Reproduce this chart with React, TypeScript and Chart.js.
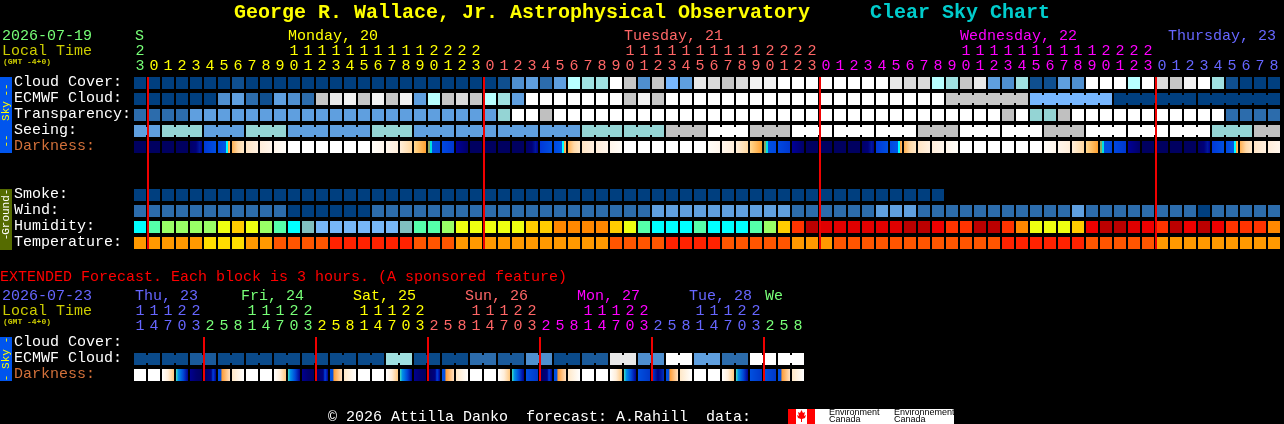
import { useEffect, useRef } from 'react';
import { Chart, registerables } from 'chart.js';

Chart.register(...registerables);

// --- tick labels ---
const hours = [
  23, 0, 1, 2, 3, 4, 5, 6, 7, 8, 9, 10, 11, 12, 13, 14, 15, 16, 17, 18, 19, 20, 21, 22, 23,
  0, 1, 2, 3, 4, 5, 6, 7, 8, 9, 10, 11, 12, 13, 14, 15, 16, 17, 18, 19, 20, 21, 22, 23,
  0, 1, 2, 3, 4, 5, 6, 7, 8, 9, 10, 11, 12, 13, 14, 15, 16, 17, 18, 19, 20, 21, 22, 23,
  0, 1, 2, 3, 4, 5, 6, 7, 8,
];
const extHours = [
  11, 14, 17, 20, 23, 2, 5, 8, 11, 14, 17, 20, 23, 2, 5, 8,
  11, 14, 17, 20, 23, 2, 5, 8, 11, 14, 17, 20, 23, 2, 5, 8,
  11, 14, 17, 20, 23, 2, 5, 8, 11, 14, 17, 20, 23, 2, 5, 8,
];
const midnightCols = [1, 25, 49, 73];
const extMidnightCols = [5, 13, 21, 29, 37, 45];

// --- sky rows (cloud values are percent covered) ---
const cloudCover = [
  0, 0, 0, 0, 0, 0, 0, 10, 0, 0, 0, 0, 0, 0, 0, 0, 0, 0, 0, 0, 0, 0, 0, 0, 0, 0,
  10, 30, 40, 20, 40, 60, 65, 65, 100, 70, 30, 70, 50, 40, 80, 75, 70, 75, 90, 90,
  100, 100, 100, 100, 100, 100, 100, 100, 80, 75, 75, 60, 65, 70, 80, 40, 30, 65,
  10, 10, 40, 30, 100, 100, 100, 60, 100, 75, 70, 90, 100, 65, 10, 0, 0, 0,
];
const ecmwfCloud = [
  0, 0, 0, 0, 0, 0, 30, 40, 20, 10, 40, 30, 20, 70, 80, 90, 70, 90, 70, 90, 40,
  60, 70, 75, 70, 60, 65, 40, 100, 100, 100, 100, 100, 100, 100, 70, 90, 70,
  100, 100, 100, 100, 100, 100, 100, 100, 100, 100, 100, 100, 100, 100, 100, 100, 100, 100, 100, 100,
  70, 70, 70, 70, 70, 70, 50, 50, 50, 50, 50, 50, 0, 0, 0, 0, 0, 0, 0, 0, 0, 0, 0, 0,
];
const ecmwfBlocks = [58, 64, 70, 76];
const transparency = [
  4, 4, 4, 4, 3, 3, 3, 3, 3, 3, 3, 3, 3, 3, 3, 3, 3, 3, 3, 3, 3, 3, 3, 3, 3, 3,
  2, 0, 0, 1, 0, 0, 0, 0, 0, 0, 0, 0, 0, 0, 0, 0, 0, 0, 0, 0, 0, 0, 0, 0, 0, 0,
  0, 0, 0, 0, 0, 0, 0, 0, 0, 0, 1, 0, 2, 2, 1, 0, 0, 0, 0, 0, 0, 0, 0, 0, 0, 0, 4, 4, 4, 4,
];
const seeing = [
  3, 3, 2, 2, 2, 3, 3, 3, 2, 2, 2, 3, 3, 3, 3, 3, 3, 2, 2, 2, 3, 3, 3,
  3, 3, 3, 3, 3, 3, 3, 3, 3, 2, 2, 2, 2, 2, 2, 1, 1, 1, 0, 0, 0, 1, 1, 1,
  0, 0, 0, 0, 0, 0, 0, 0, 0, 1, 1, 1, 0, 0, 0, 0, 0, 0, 1, 1, 1,
  0, 0, 0, 0, 0, 0, 0, 0, 0, 2, 2, 2, 1, 1,
];
const seeingBlocks = [
  0, 2, 5, 8, 11, 14, 17, 20, 23, 26, 29, 32, 35, 38, 41, 44, 47, 50, 53, 56, 59, 62, 65, 68, 71, 74, 77, 80,
];
const darkness = [
  'N', 'N', 'N', 'N', 'A', 'B', 'C', 'D', 'E', 'F', 'H', 'G', 'G', 'G', 'G', 'G', 'G', 'H2', 'E2', 'I', 'J', 'K', 'L', 'M',
  'N', 'N', 'N', 'N', 'A', 'B', 'C', 'D', 'E', 'F', 'H', 'G', 'G', 'G', 'G', 'G', 'G', 'H2', 'E2', 'I', 'J', 'K', 'L', 'M',
  'N', 'N', 'N', 'N', 'A', 'B', 'C', 'D', 'E', 'F', 'H', 'G', 'G', 'G', 'G', 'G', 'G', 'H2', 'E2', 'I', 'J', 'K', 'L', 'M',
  'N', 'N', 'N', 'N', 'A', 'B', 'C', 'D', 'E', 'F',
];

// --- ground rows ---
const smoke = [
  0, 0, 0, 0, 0, 0, 0, 0, 0, 0, 0, 0, 0, 0, 0, 0, 0, 0, 0, 0, 0, 0, 0, 0, 0, 0, 0, 0, 0,
  0, 0, 0, 0, 0, 0, 0, 0, 0, 0, 0, 0, 0, 0, 0, 0, 0, 0, 0, 0, 0, 0, 0, 0, 0, 0, 0, 0, 0,
];
const wind = [
  1, 1, 1, 1, 1, 1, 1, 1, 1, 1, 1, 0, 0, 0, 0, 0, 0, 1, 1, 1, 1, 1, 1, 1, 1, 1, 1, 1, 1, 1, 1, 1, 1, 1, 1, 1, 1,
  2, 2, 2, 2, 2, 2, 2, 2, 2, 2, 1, 1, 1, 1, 1, 1, 2, 2, 2, 1, 1, 1, 1, 1, 1, 1, 1, 1, 1, 1, 2, 1, 1, 1, 1, 1, 1, 1, 1,
  0, 1, 1, 1, 1, 1,
];
const humidity = [
  60, 65, 70, 70, 70, 70, 75, 80, 75, 70, 65, 60, 55, 50, 50, 50, 50, 50, 50, 55, 65,
  65, 70, 75, 75, 75, 75, 75, 80, 80, 85, 85, 85, 85, 80, 75, 65, 60, 60, 60, 65, 60, 60, 60, 65, 70, 80,
  90, 100, 95, 95, 95, 95, 95, 95, 100, 100, 93, 90, 90, 100, 100, 90, 85, 75, 75, 75, 80,
  93, 100, 100, 95, 93, 90, 100, 93, 100, 93, 90, 90, 90, 85,
];
const temperature = [
  20, 20, 20, 20, 20, 15, 15, 15, 20, 20, 25, 25, 25, 25, 30, 30, 30, 30, 30, 30, 25,
  25, 25, 20, 20, 20, 20, 20, 20, 20, 20, 20, 20, 20, 25, 25, 25, 25, 30, 30, 30, 30, 25, 25, 25, 25, 25,
  20, 20, 20, 25, 25, 25, 25, 25, 25, 25, 25, 25, 25, 25, 25, 30, 30, 30, 30, 30, 30,
  25, 25, 25, 25, 25, 20, 20, 20, 20, 20, 20, 20, 20, 20,
];

// --- extended rows, 3 hours per block ---
const extEcmwf = [
  5, 5, 5, 5, 15, 15, 5, 5, 5, 5, 5, 5, 5, 5, 5, 5, 5, 5, 65, 65, 5, 5, 5, 5,
  20, 20, 15, 15, 30, 30, 5, 5, 15, 15, 80, 80, 30, 30, 100, 100, 40, 40, 20, 20, 100, 100, 100, 100,
];
const extBlocks = [
  0, 2, 4, 6, 8, 10, 12, 14, 16, 18, 20, 22, 24, 26, 28, 30, 32, 34, 36, 38, 40, 42, 44, 46,
];
const extDarkness = [
  'G', 'G', 'O', 'K2', 'P', 'S', 'Q', 'R',
  'G', 'G', 'O', 'K2', 'P', 'S', 'Q', 'R',
  'G', 'G', 'O', 'K2', 'P', 'S', 'Q', 'R',
  'G', 'G', 'O', 'K2', 'T', 'S', 'Q', 'R',
  'G', 'G', 'O', 'K2', 'T', 'U', 'Q', 'R',
  'G', 'G', 'O', 'K2', 'T', 'T', 'Q', 'R',
];

// --- colours ---
const GREEN = '#77ff77';
const YELLOW = '#ffff00';
const SALMON = '#ff6666';
const MAGENTA = '#ff00ff';
const BLUE = '#6666ff';
const OLIVE = '#cccc00';
const DARK_ORANGE = '#d2703a';

const cloudColors: Record<number, string> = {
  0: '#003f7f', 5: '#0a4a8a', 10: '#0f4f8f', 15: '#1a5a9a', 20: '#2c6cac', 30: '#4f8fcf', 40: '#5f9fdf', 50: '#77b7ff',
  60: '#b8ffff', 65: '#a0e0e0', 70: '#c6c6c6', 75: '#dadada', 80: '#e8e8e8', 90: '#f2f2f2', 100: '#ffffff',
};
const transparencyColors = ['#ffffff', '#c0c0c0', '#94d4d4', '#5f9fdf', '#2c6cac'];
const seeingColors = ['#ffffff', '#c0c0c0', '#94d4d4', '#5f9fdf'];
const smokeColors = ['#003f7f'];
const windColors = ['#003f7f', '#2c6cac', '#5f9fdf'];
const humidityColors: Record<number, string> = {
  50: '#77b7f7', 55: '#80bfbf', 60: '#00ffff', 65: '#55ffaa', 70: '#99ff66', 75: '#eeff11', 80: '#ffcc00',
  85: '#ff8800', 90: '#ff3300', 93: '#ee0000', 95: '#e00000', 100: '#bb0000',
};
const temperatureColors: Record<number, string> = {
  15: '#ffdd00', 20: '#ff9900', 25: '#ff5500', 30: '#ff2200',
};
const darknessStops: Record<string, [number, string][]> = {
  N: [[0, '#000060'], [1, '#000060']],
  A: [[0, '#000068'], [0.5, '#000078'], [0.8, '#0018a0'], [1, '#000090']],
  B: [[0, '#0038d8'], [1, '#0050e0']],
  C: [[0, '#0048e0'], [0.65, '#0058e8'], [0.66, '#00ffff'], [0.82, '#00ffff'], [0.83, '#ffa030'], [1, '#ffc070']],
  D: [[0, '#ffb050'], [0.5, '#ffd9a8'], [1, '#ffe8c8']],
  E: [[0, '#ffe4c4'], [1, '#fff0e0']],
  F: [[0, '#ffedda'], [1, '#fff6ec']],
  H: [[0, '#fff5ea'], [1, '#fffdf8']],
  G: [[0, '#ffffff'], [1, '#ffffff']],
  H2: [[0, '#fffdf8'], [1, '#fff6ec']],
  E2: [[0, '#fff6ec'], [1, '#ffeeda']],
  I: [[0, '#ffeeda'], [1, '#ffd8a0']],
  J: [[0, '#ffd890'], [1, '#ffa030']],
  K: [[0, '#88aa66'], [0.16, '#88aa66'], [0.17, '#00e0e0'], [0.32, '#00e0e0'], [0.33, '#0050e0'], [1, '#0048e0']],
  L: [[0, '#0048e0'], [1, '#0038d0']],
  M: [[0, '#000098'], [1, '#000068']],
  O: [[0, '#ffffff'], [0.5, '#ffeeda'], [1, '#ffc880']],
  K2: [[0, '#40e0c0'], [0.2, '#0090e8'], [0.6, '#0048d8'], [1, '#000090']],
  P: [[0, '#000090'], [0.5, '#000070'], [1, '#000060']],
  S: [[0, '#000060'], [0.6, '#000080'], [0.75, '#0040e0'], [1, '#000090']],
  Q: [[0, '#0050e0'], [0.28, '#0050e0'], [0.3, '#ff9a30'], [1, '#ffe0c0']],
  R: [[0, '#ffe8c8'], [1, '#ffffff']],
  T: [[0, '#0050e0'], [1, '#0038c8']],
  U: [[0, '#0040d8'], [0.5, '#000080'], [1, '#0030c0']],
};

// --- layout: one column is 14px wide, one row 16px high ---
const WIDTH = 1284;
const HEIGHT = 424;
const ROW_FILL = 0.75;
const sky = { cloud: 0, ecmwf: 1, transparency: 2, seeing: 3, darkness: 4 };
const ground = { smoke: 7, wind: 8, humidity: 9, temperature: 10 };
const ext = { cloud: 16.25, ecmwf: 17.25, darkness: 18.25 };

const MONO = '"Liberation Mono", monospace';

const barSize = (px: number) => ({ barThickness: px, barPercentage: 1, categoryPercentage: 1 });

function cellBars(row: number, values: number[], colors: Record<number, string> | string[]) {
  return {
    data: values.map((_, i) => ({ x: i, y: [row, row + ROW_FILL] })),
    backgroundColor: values.map((v) => (colors as Record<number, string>)[v]),
    ...barSize(12),
    order: 2,
  };
}

// thin joins between cells that belong to one forecast block
function bridges(row: number, values: number[], starts: number[], colors: Record<number, string> | string[]) {
  const cols = values.map((_, i) => i).filter((i) => i < values.length - 1 && i >= starts[0] && !starts.includes(i + 1));
  return {
    data: cols.map((i) => ({ x: i + 0.5 - 1 / 14, y: [row + 0.125, row + 0.625] })),
    backgroundColor: cols.map((i) => (colors as Record<number, string>)[values[i]]),
    ...barSize(4),
    order: 3,
  };
}

function darknessBars(row: number, stages: string[]) {
  return {
    data: stages.map((s, i) => ({ x: i, y: [row, row + ROW_FILL], stage: s })),
    backgroundColor: (c: any) => {
      if (!c.raw) return 'transparent';
      const stops = darknessStops[c.raw.stage];
      const mid = c.chart.scales.x.getPixelForValue(c.raw.x);
      // scales have no size yet on the first pass
      if (!Number.isFinite(mid)) return stops[0][1];
      const g = c.chart.ctx.createLinearGradient(mid - 6, 0, mid + 6, 0);
      stops.forEach(([p, col]) => g.addColorStop(p, col));
      return g;
    },
    ...barSize(12),
    order: 2,
  };
}

function redLines(cols: number[], top: number, bottom: number) {
  return {
    data: cols.map((c) => ({ x: c - 6 / 14, y: [top, bottom] })),
    backgroundColor: '#f00000',
    ...barSize(2),
    order: 0,
  };
}

function bandColor(bands: [number, string][], col: number) {
  let color = bands[0][1];
  bands.forEach(([from, c]) => {
    if (col >= from) color = c;
  });
  return color;
}

const mainBands: [number, string][] = [[0, GREEN], [1, YELLOW], [25, SALMON], [49, MAGENTA], [73, BLUE]];
const extBands: [number, string][] = [[0, BLUE], [5, GREEN], [13, YELLOW], [21, SALMON], [29, MAGENTA], [37, BLUE], [45, GREEN]];

const textPlugin = {
  id: 'cscText',
  beforeDraw(chart: any) {
    chart.ctx.save();
    chart.ctx.fillStyle = '#000';
    chart.ctx.fillRect(0, 0, WIDTH, HEIGHT);
    chart.ctx.restore();
  },
  afterDraw(chart: any) {
    const { ctx, scales } = chart;
    const colX = (c: number) => scales.x.getPixelForValue(c);
    const rowY = (r: number) => scales.y.getPixelForValue(r) + 5;

    const text = (s: string, x: number, y: number, color: string, font = `15px ${MONO}`, align: CanvasTextAlign = 'left') => {
      ctx.font = font;
      ctx.fillStyle = color;
      ctx.textAlign = align;
      ctx.textBaseline = 'middle';
      ctx.fillText(s, x, y);
    };
    const strip = (top: number, bottom: number, color: string, parts: [string, number][], textColor: string) => {
      ctx.fillStyle = color;
      ctx.fillRect(0, top, 12, bottom - top);
      parts.forEach(([s, y]) => {
        ctx.save();
        ctx.translate(6, y);
        ctx.rotate(-Math.PI / 2);
        text(s, 0, 0, textColor, `11px ${MONO}`, 'center');
        ctx.restore();
      });
    };

    ctx.save();

    text('George R. Wallace, Jr. Astrophysical Observatory', 234, 13, YELLOW, `bold 20px ${MONO}`);
    text('Clear Sky Chart', 870, 13, '#00cccc', `bold 20px ${MONO}`);

    text('2026-07-19', 2, 36, GREEN);
    text('Local Time', 2, 51, OLIVE);
    text('(GMT -4+0)', 3, 62, OLIVE, `bold 8px ${MONO}`);
    text('S', 135, 36, GREEN);
    text('Monday, 20', 288, 36, YELLOW);
    text('Tuesday, 21', 624, 36, SALMON);
    text('Wednesday, 22', 960, 36, MAGENTA);
    text('Thursday, 23', 1168, 36, BLUE);
    hours.forEach((h, i) => {
      const color = bandColor(mainBands, i);
      if (h >= 10) text(String(h)[0], colX(i), 51, color, undefined, 'center');
      text(String(h % 10), colX(i), 66, color, undefined, 'center');
    });

    strip(77, 153, '#0055ee', [['--', 90], ['Sky', 111], ['--', 141]], YELLOW);
    strip(189, 250, '#556b00', [['-', 192], ['Ground', 215], ['-', 237]], '#ffffff');
    strip(337, 381, '#0055ee', [['-', 340], ['Sky', 359], ['-', 378]], YELLOW);

    text('Cloud Cover:', 14, rowY(sky.cloud), '#fff');
    text('ECMWF Cloud:', 14, rowY(sky.ecmwf), '#fff');
    text('Transparency:', 14, rowY(sky.transparency), '#fff');
    text('Seeing:', 14, rowY(sky.seeing), '#fff');
    text('Darkness:', 14, rowY(sky.darkness), DARK_ORANGE);
    text('Smoke:', 14, rowY(ground.smoke), '#fff');
    text('Wind:', 14, rowY(ground.wind), '#fff');
    text('Humidity:', 14, rowY(ground.humidity), '#fff');
    text('Temperature:', 14, rowY(ground.temperature), '#fff');

    text('EXTENDED Forecast. Each block is 3 hours. (A sponsored feature)', 0, 277, '#ff0000');
    text('2026-07-23', 2, 296, BLUE);
    text('Local Time', 2, 311, OLIVE);
    text('(GMT -4+0)', 3, 322, OLIVE, `bold 8px ${MONO}`);
    text('Thu, 23', 135, 296, BLUE);
    text('Fri, 24', 241, 296, GREEN);
    text('Sat, 25', 353, 296, YELLOW);
    text('Sun, 26', 465, 296, SALMON);
    text('Mon, 27', 577, 296, MAGENTA);
    text('Tue, 28', 689, 296, BLUE);
    text('We', 765, 296, GREEN);
    extHours.forEach((h, i) => {
      const color = bandColor(extBands, i);
      if (h >= 10) text(String(h)[0], colX(i), 311, color, undefined, 'center');
      text(String(h % 10), colX(i), 326, color, undefined, 'center');
    });

    text('Cloud Cover:', 14, rowY(ext.cloud), '#fff');
    text('ECMWF Cloud:', 14, rowY(ext.ecmwf), '#fff');
    text('Darkness:', 14, rowY(ext.darkness), DARK_ORANGE);

    text('\u00a9 2026 Attilla Danko  forecast: A.Rahill  data:', 328, 417, '#fff');

    // Environment Canada logo
    ctx.fillStyle = '#fff';
    ctx.fillRect(788, 409, 166, 15);
    ctx.fillStyle = '#ff0000';
    ctx.fillRect(788, 409, 8, 15);
    ctx.fillRect(807, 409, 8, 15);
    ctx.beginPath();
    [[801.5, 410], [803, 413], [805, 412], [804, 416], [806, 415], [805, 418], [802, 419], [802, 422], [801, 422], [801, 419], [798, 418], [797, 415], [799, 416], [798, 412], [800, 413]].forEach(([x, y], i) => {
      if (i === 0) ctx.moveTo(x, y);
      else ctx.lineTo(x, y);
    });
    ctx.closePath();
    ctx.fill();
    const logoFont = '9px "Liberation Sans", sans-serif';
    text('Environment', 829, 413, '#000', logoFont);
    text('Canada', 829, 420, '#000', logoFont);
    text('Environnement', 894, 413, '#000', logoFont);
    text('Canada', 894, 420, '#000', logoFont);

    ctx.restore();
  },
};

export default function App() {
  const canvasRef = useRef<HTMLCanvasElement>(null);

  useEffect(() => {
    if (!canvasRef.current) return;
    document.body.style.margin = '0';
    document.body.style.background = '#000';

    const chart = new Chart(canvasRef.current, {
      type: 'bar',
      data: {
        datasets: [
          redLines(midnightCols, sky.cloud, ground.temperature + ROW_FILL),
          redLines(extMidnightCols, ext.cloud, ext.darkness + ROW_FILL),
          cellBars(sky.cloud, cloudCover, cloudColors),
          cellBars(sky.ecmwf, ecmwfCloud, cloudColors),
          bridges(sky.ecmwf, ecmwfCloud, ecmwfBlocks, cloudColors),
          cellBars(sky.transparency, transparency, transparencyColors),
          cellBars(sky.seeing, seeing, seeingColors),
          bridges(sky.seeing, seeing, seeingBlocks, seeingColors),
          darknessBars(sky.darkness, darkness),
          cellBars(ground.smoke, smoke, smokeColors),
          cellBars(ground.wind, wind, windColors),
          cellBars(ground.humidity, humidity, humidityColors),
          cellBars(ground.temperature, temperature, temperatureColors),
          cellBars(ext.ecmwf, extEcmwf, cloudColors),
          bridges(ext.ecmwf, extEcmwf, extBlocks, cloudColors),
          darknessBars(ext.darkness, extDarkness),
        ] as any,
      },
      options: {
        animation: false,
        responsive: false,
        devicePixelRatio: 1,
        layout: { padding: 0 },
        datasets: { bar: { grouped: false, inflateAmount: 0, borderWidth: 0 } },
        plugins: { legend: { display: false }, tooltip: { enabled: false } },
        scales: {
          // column 0 is centred at x=140, row 0 starts at y=77
          x: { type: 'linear', display: false, min: -10, max: (WIDTH - 140) / 14, offset: false },
          y: { type: 'linear', display: false, reverse: true, min: -77 / 16, max: (HEIGHT - 77) / 16 },
        },
      } as any,
      plugins: [textPlugin],
    });

    return () => chart.destroy();
  }, []);

  return <canvas ref={canvasRef} width={WIDTH} height={HEIGHT} style={{ display: 'block' }} />;
}
